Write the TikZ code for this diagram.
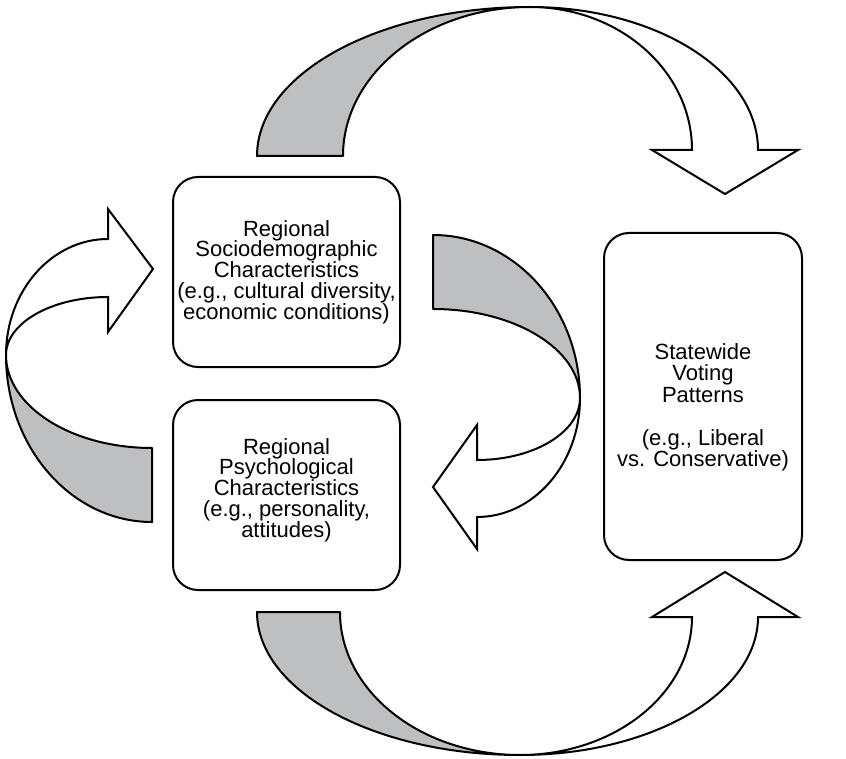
\documentclass[tikz,border=0pt]{standalone}
\usepackage{fontspec}
\setmainfont{Liberation Sans}
\definecolor{ribbongray}{RGB}{190,191,193}
\begin{document}
\begin{tikzpicture}[
        x=0.5pt, y=-0.5pt,
        box/.style={rectangle, draw, line width=1pt, rounded corners=12.5pt, align=center, inner sep=0pt, font=\fontsize{11}{10.4}\selectfont},
        backside/.style={draw, line width=1pt, fill=ribbongray, line join=round},
        frontside/.style={draw, line width=1pt, fill=white, line join=miter}
    ]
    \useasboundingbox (0,0) rectangle (846,759);

    % boxes
    \node[box, minimum width=113.5pt, minimum height=95pt] (socio) at (286.5,272) {Regional\\Sociodemographic\\Characteristics\\(e.g., cultural diversity,\\economic conditions)};
    \node[box, minimum width=113.5pt, minimum height=95pt] (psych) at (286.5,495) {Regional\\Psychological\\Characteristics\\(e.g., personality,\\attitudes)\rule[-7.3pt]{0pt}{1pt}};
    \node[box, minimum width=99pt, minimum height=163.5pt, font=\fontsize{11}{10.75}\selectfont] (voting) at (703,396.5) {\rule{0pt}{19pt}Statewide\\Voting\\Patterns\\[10.75pt](e.g., Liberal\\vs. Conservative)};

    % top ribbon: sociodemographic -> voting
    \draw[backside] (257,156) arc[start angle=180, end angle=270, x radius=273, y radius=149]
        arc[start angle=270, end angle=180, x radius=187, y radius=149] -- cycle;
    \draw[frontside] (530,7) arc[start angle=270, end angle=360, x radius=228, y radius=143]
        -- (798,150) -- (725,194) -- (652,150) -- (692,150)
        arc[start angle=0, end angle=-90, x radius=162, y radius=143] -- cycle;

    % bottom ribbon: psychological -> voting
    \draw[backside] (257,612) arc[start angle=180, end angle=90, x radius=263, y radius=143]
        arc[start angle=90, end angle=180, x radius=180, y radius=143] -- cycle;
    \draw[frontside] (520,755) arc[start angle=90, end angle=0, x radius=238, y radius=138]
        -- (798,617) -- (725,572) -- (652,617) -- (692,617)
        arc[start angle=0, end angle=90, x radius=172, y radius=138] -- cycle;

    % middle ribbon: sociodemographic -> psychological
    \draw[backside] (433,235) arc[start angle=270, end angle=360, x radius=147, y radius=163]
        arc[start angle=0, end angle=-90, x radius=147, y radius=89] -- cycle;
    \draw[frontside] (580,398) arc[start angle=0, end angle=90, x radius=103, y radius=119]
        -- (477,549) -- (433,487) -- (477,425) -- (477,460)
        arc[start angle=90, end angle=0, x radius=103, y radius=62] -- cycle;

    % left ribbon: psychological -> sociodemographic
    \draw[backside] (6,355) arc[start angle=180, end angle=90, x radius=146, y radius=167]
        -- (152,448) arc[start angle=90, end angle=180, x radius=146, y radius=93] -- cycle;
    \draw[frontside] (6,355) arc[start angle=180, end angle=270, x radius=102, y radius=116]
        -- (108,209) -- (153,269) -- (108,332) -- (108,297)
        arc[start angle=270, end angle=180, x radius=102, y radius=58] -- cycle;

\end{tikzpicture}
\end{document}
